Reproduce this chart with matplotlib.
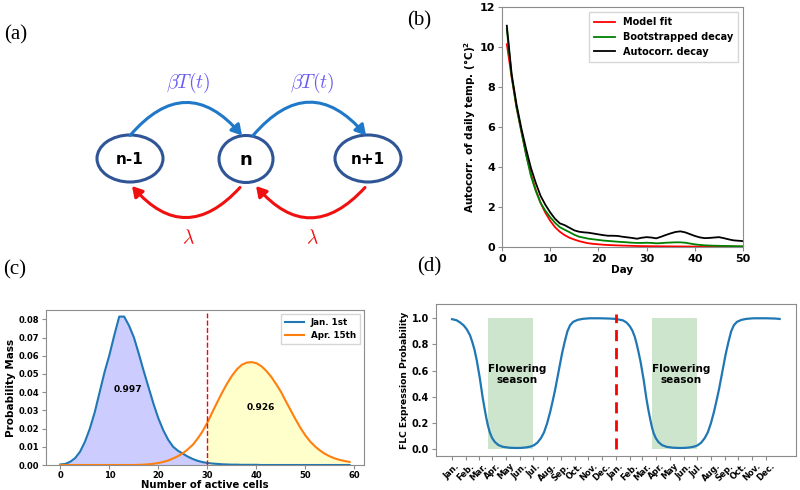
import numpy as np
import matplotlib
matplotlib.use("Agg")
import matplotlib.pyplot as plt
from matplotlib.patches import Ellipse, FancyArrowPatch

# ---------------- data ----------------
# Panel (a): birth-death diagram
state_names = ["n-1", "n", "n+1"]
up_rate_label = r"$\beta T(t)$"
down_rate_label = r"$\lambda$"

# Panel (b): autocorrelation decay
days_b = list(range(1, 51))
model_fit = [10.15, 8.5, 7.0, 5.8, 4.65, 3.65, 2.85, 2.2, 1.7, 1.3,
             0.98, 0.75, 0.58, 0.45, 0.36, 0.28, 0.22, 0.17, 0.14, 0.12,
             0.10, 0.085, 0.075, 0.065, 0.057, 0.05, 0.042, 0.035, 0.031, 0.028,
             0.025, 0.022, 0.02, 0.018, 0.016, 0.014, 0.013, 0.011, 0.01, 0.009,
             0.008, 0.007, 0.006, 0.005, 0.005, 0.004, 0.004, 0.003, 0.003, 0.002]
bootstrapped = [10.9, 8.55, 7.0, 5.8, 4.6, 3.55, 2.8, 2.2, 1.8, 1.48,
                1.2, 0.98, 0.85, 0.73, 0.6, 0.5, 0.45, 0.4, 0.37, 0.34,
                0.31, 0.29, 0.27, 0.25, 0.235, 0.22, 0.2, 0.19, 0.19, 0.2,
                0.19, 0.17, 0.18, 0.2, 0.21, 0.22, 0.22, 0.2, 0.16, 0.12,
                0.09, 0.07, 0.06, 0.05, 0.045, 0.04, 0.035, 0.03, 0.025, 0.02]
autocorr = [11.08, 8.65, 7.15, 5.95, 4.9, 3.95, 3.2, 2.55, 2.1, 1.72,
            1.4, 1.17, 1.08, 0.95, 0.82, 0.75, 0.72, 0.7, 0.66, 0.62,
            0.58, 0.55, 0.55, 0.54, 0.5, 0.47, 0.44, 0.4, 0.45, 0.48,
            0.46, 0.42, 0.5, 0.59, 0.67, 0.74, 0.77, 0.72, 0.63, 0.54,
            0.47, 0.43, 0.44, 0.46, 0.48, 0.43, 0.37, 0.32, 0.3, 0.28]
legend_b = ["Model fit", "Bootstrapped decay", "Autocorr. decay"]

# Panel (c): distribution of active cells
cells = list(range(0, 60))
pmf_jan = [0.0003, 0.0006, 0.0018, 0.0038, 0.0073, 0.0128, 0.0200, 0.0290, 0.0400, 0.0510,
           0.0605, 0.0714, 0.0815, 0.0815, 0.0765, 0.0700, 0.0610, 0.0515, 0.0425, 0.0335,
           0.0255, 0.0190, 0.0138, 0.0100, 0.0078, 0.0062, 0.0046, 0.0033, 0.0023, 0.0016,
           0.0011, 0.0008, 0.0006, 0.0004, 0.0003, 0.0002, 0.0002, 0.0001, 0.0001, 0.0001,
           0.0001, 0.0, 0.0, 0.0, 0.0, 0.0, 0.0, 0.0, 0.0, 0.0,
           0.0, 0.0, 0.0, 0.0, 0.0, 0.0, 0.0, 0.0, 0.0, 0.0]
pmf_apr = [0.0, 0.0, 0.0, 0.0, 0.0, 0.0, 0.0, 0.0, 0.0, 0.0,
           0.0, 0.0, 0.0, 0.0, 0.0, 0.0, 0.0001, 0.0002, 0.0004, 0.0007,
           0.0011, 0.0017, 0.0025, 0.0036, 0.0049, 0.0065, 0.0086, 0.0111, 0.0145, 0.0185,
           0.0234, 0.0290, 0.0345, 0.0398, 0.0447, 0.0490, 0.0525, 0.0550, 0.0562, 0.0565,
           0.0559, 0.0543, 0.0517, 0.0485, 0.0445, 0.0402, 0.0350, 0.0300, 0.0250, 0.0203,
           0.0162, 0.0128, 0.0101, 0.0079, 0.0061, 0.0047, 0.0036, 0.0028, 0.0022, 0.0017]
legend_c = ["Jan. 1st", "Apr. 15th"]
threshold_cells = 30
mass_jan = "0.997"
mass_apr = "0.926"
mass_jan_pos = (13.8, 0.0416)
mass_apr_pos = (40.9, 0.0315)

# Panel (d): FLC expression probability over two years
flc_days = [0, 10, 18, 26, 33, 40, 45, 50, 55, 59, 62, 65, 68, 72, 76, 80, 84, 89, 95, 103,
            113, 128, 143, 155, 166, 175, 182, 190, 198, 205, 212, 219, 225, 230, 235, 240,
            245, 251, 257, 263, 270, 280, 292, 307, 330, 350, 365,
            372, 381, 389, 396, 402, 407, 411, 415, 420, 424, 427, 430, 433, 437, 441, 445,
            449, 454, 460, 468, 478, 493, 508, 520, 531, 540, 547, 555, 563, 570, 577, 584,
            590, 595, 600, 605, 610, 616, 622, 628, 635, 645, 657, 672, 700, 720, 730]
flc_prob = [0.993, 0.985, 0.968, 0.945, 0.915, 0.87, 0.82, 0.76, 0.68, 0.60, 0.54, 0.47, 0.40,
            0.32, 0.245, 0.18, 0.13, 0.088, 0.057, 0.033, 0.019, 0.012, 0.010, 0.011, 0.015,
            0.021, 0.030, 0.050, 0.085, 0.13, 0.20, 0.29, 0.38, 0.46, 0.55, 0.64, 0.73, 0.82,
            0.90, 0.947, 0.973, 0.988, 0.996, 1.0, 1.0, 0.998, 0.995,
            0.99, 0.984, 0.967, 0.94, 0.905, 0.86, 0.81, 0.75, 0.67, 0.59, 0.53, 0.46, 0.39,
            0.31, 0.24, 0.175, 0.125, 0.085, 0.055, 0.032, 0.019, 0.012, 0.010, 0.011, 0.015,
            0.021, 0.030, 0.050, 0.085, 0.13, 0.20, 0.29, 0.38, 0.46, 0.55, 0.64, 0.73, 0.82,
            0.90, 0.947, 0.973, 0.988, 0.996, 1.0, 1.0, 0.998, 0.995]
month_names = ["Jan.", "Feb.", "Mar.", "Apr.", "May", "Jun.", "Jul.", "Aug.", "Sep.",
               "Oct.", "Nov.", "Dec."] * 2
month_start_days = [0, 31, 59, 90, 120, 151, 181, 212, 243, 273, 304, 334,
                    365, 396, 424, 455, 485, 516, 546, 577, 608, 638, 669, 699]
flowering_seasons = [(80, 181), (445, 546)]
flowering_label = "Flowering\nseason"
year_boundary = 365

# ---------------- figure ----------------
plt.rcParams["font.family"] = ["DejaVu Sans"]
plt.rcParams["font.weight"] = "bold"
plt.rcParams["axes.labelweight"] = "bold"
plt.rcParams["mathtext.fontset"] = "cm"

fig = plt.figure(figsize=(8, 4.9), dpi=100)

# ---- panel (a) drawn in pixel space ----
axa = fig.add_axes([0, 0, 1, 1])
axa.set_xlim(0, 800)
axa.set_ylim(490, 0)
axa.axis("off")
axa.patch.set_visible(False)

ell_color = "#2f5597"
centers = [(130, 158.5), (246, 159), (368, 158.5)]
widths = [66, 54, 66]
for (cx, cy), w, name in zip(centers, widths, state_names):
    axa.add_patch(Ellipse((cx, cy), w, 47, fill=False, ec=ell_color, lw=2.2))
    axa.text(cx, cy + 1, name, ha="center", va="center",
             fontsize=13 if name == "n" else 11, fontweight="bold", color="black")

blue_arrow = "#1f78c8"
for (x0, x1) in [(130, 242), (253, 366)]:
    axa.add_patch(FancyArrowPatch((x0, 135.5), (x1, 135.5), connectionstyle="arc3,rad=-0.58",
                                  arrowstyle="-|>,head_length=6,head_width=3.5",
                                  color=blue_arrow, lw=2.2, shrinkA=0, shrinkB=0))
for (x0, x1) in [(240, 132), (365, 256)]:
    axa.add_patch(FancyArrowPatch((x0, 187.5), (x1, 186), connectionstyle="arc3,rad=-0.56",
                                  arrowstyle="-|>,head_length=6,head_width=3.5",
                                  color="#f01010", lw=2.2, shrinkA=0, shrinkB=0))
for x in (188, 312):
    axa.text(x, 83, up_rate_label, ha="center", va="center", fontsize=14, color="#6a5cf2")
    axa.text(x, 238, down_rate_label, ha="center", va="center", fontsize=14, color="#f01010")

# panel letters
for lbl, x, y in [("(a)", 4, 35), ("(b)", 407, 21), ("(c)", 3, 270), ("(d)", 417, 267)]:
    fig.text(x / 800, 1 - y / 490, lbl, ha="left", va="center", fontsize=15,
             fontweight="normal", family=["Liberation Serif", "DejaVu Serif"])

spine_color = "#8c8c8c"

def style_axes(ax, fs):
    for s in ax.spines.values():
        s.set_color(spine_color)
    ax.tick_params(colors="black", labelsize=fs, length=3, width=0.8, pad=2)
    ax.tick_params(axis="both", color=spine_color)

# ---- panel (b) ----
axb = fig.add_axes([0.6275, 0.4965, 0.3013, 0.4885])
axb.plot(days_b, model_fit, color="red", lw=1.3, label=legend_b[0])
axb.plot(days_b, bootstrapped, color="green", lw=1.3, label=legend_b[1])
axb.plot(days_b, autocorr, color="black", lw=1.3, label=legend_b[2])
axb.set_xlim(0, 50)
axb.set_ylim(0, 12)
axb.set_xticks([0, 10, 20, 30, 40, 50])
axb.set_yticks([0, 2, 4, 6, 8, 10, 12])
axb.set_xlabel("Day", fontsize=7.5, labelpad=1)
axb.set_ylabel(r"Autocorr. of daily temp. (°C)$^\mathbf{2}$", fontsize=7.5, labelpad=1,
               math_fontfamily="dejavusans")
style_axes(axb, 8)
axb.legend(loc="upper right", fontsize=7, frameon=True, edgecolor="#cccccc", fancybox=False,
           handlelength=2.2, borderpad=0.5, labelspacing=0.5)

# ---- panel (c) ----
axc = fig.add_axes([0.0575, 0.051, 0.3975, 0.3163])
cells_arr = np.array(cells)
jan_arr = np.array(pmf_jan)
apr_arr = np.array(pmf_apr)
below = cells_arr <= threshold_cells
above = cells_arr >= threshold_cells
axc.fill_between(cells_arr[below], jan_arr[below], color="blue", alpha=0.2, lw=0)
axc.fill_between(cells_arr[above], apr_arr[above], color="yellow", alpha=0.2, lw=0)
axc.plot(cells, pmf_jan, color="#1f77b4", lw=1.5, label=legend_c[0])
axc.plot(cells, pmf_apr, color="#ff7f0e", lw=1.5, label=legend_c[1])
axc.plot([threshold_cells, threshold_cells], [0, 0.0833], color="red", ls="--", lw=1.0)
axc.text(*mass_jan_pos, mass_jan, ha="center", va="center", fontsize=6.5, fontweight="bold")
axc.text(*mass_apr_pos, mass_apr, ha="center", va="center", fontsize=6.5, fontweight="bold")
axc.set_xlim(-2.95, 61.95)
axc.set_ylim(0, 0.0851)
axc.set_xticks([0, 10, 20, 30, 40, 50, 60])
axc.set_yticks([0, 0.01, 0.02, 0.03, 0.04, 0.05, 0.06, 0.07, 0.08])
axc.yaxis.set_major_formatter(matplotlib.ticker.FormatStrFormatter("%.2f"))
axc.set_xlabel("Number of active cells", fontsize=7.3, labelpad=-0.5)
axc.set_ylabel("Probability Mass", fontsize=7.5, labelpad=2)
style_axes(axc, 6)
axc.tick_params(axis="x", pad=1.5)
axc.legend(loc="upper right", fontsize=6.3, frameon=True, edgecolor="#cccccc", fancybox=False,
           handlelength=2.2)

# ---- panel (d) ----
axd = fig.add_axes([0.5446, 0.0694, 0.4504, 0.3102])
for (s, e) in flowering_seasons:
    axd.fill_between([s, e], [0, 0], [1, 1], color="green", alpha=0.2, lw=0)
    axd.text(s, 0.57, flowering_label, ha="left", va="center", multialignment="center",
             fontsize=7.5, fontweight="bold")
axd.plot(flc_days, flc_prob, color="#1f77b4", lw=1.6)
axd.plot([year_boundary, year_boundary], [0, 1.03], color="red", ls=(0, (4, 2.5)), lw=2.0)
axd.set_xlim(-36.5, 766.5)
axd.set_ylim(-0.051, 1.109)
axd.set_yticks([0, 0.2, 0.4, 0.6, 0.8, 1.0])
axd.set_xticks(month_start_days)
axd.set_xticklabels(month_names, rotation=45, ha="center")
axd.set_ylabel("FLC Expression Probability", fontsize=6.6, labelpad=2)
style_axes(axd, 7)
axd.tick_params(axis="x", labelsize=6, pad=1)

fig.savefig("out.png", dpi=100)
